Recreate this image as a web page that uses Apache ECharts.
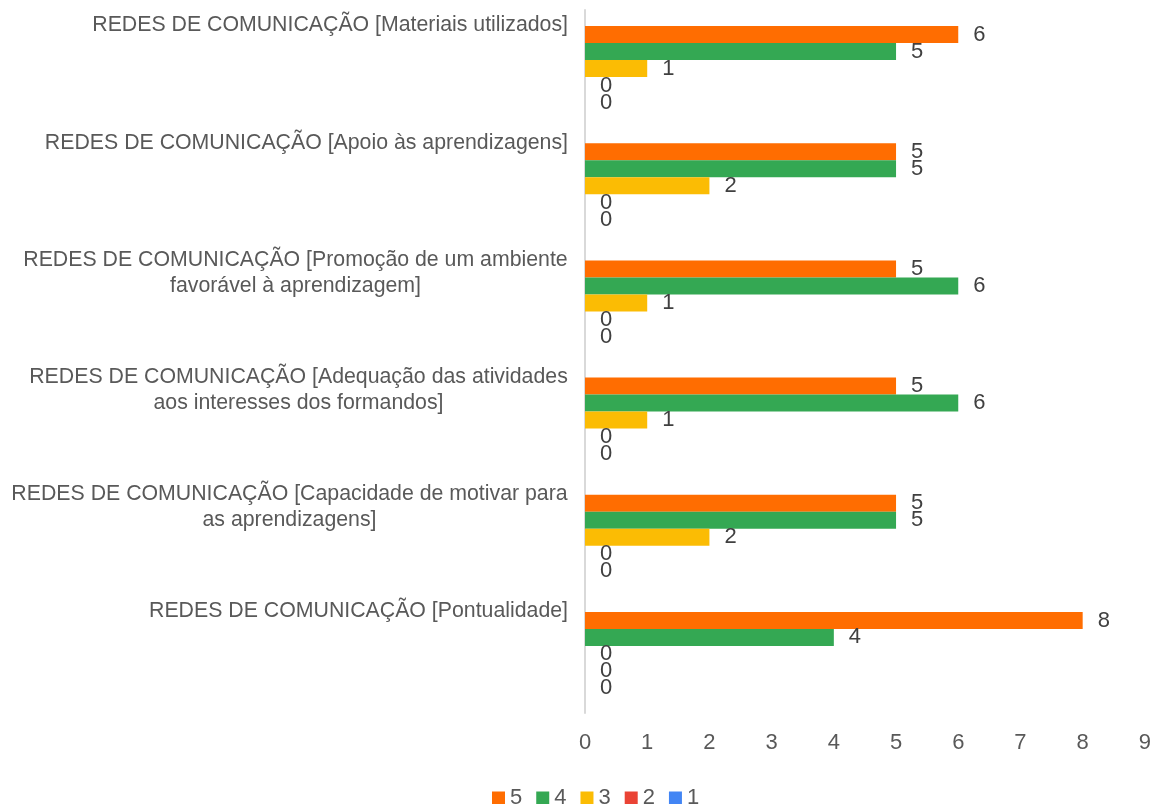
<!DOCTYPE html>
<html>
<head>
<meta charset="utf-8">
<script src="https://cdn.jsdelivr.net/npm/echarts@6/dist/echarts.min.js"></script>
<style>
  html, body { margin: 0; padding: 0; background: #fff; }
  #chart { width: 1154px; height: 804px; }
</style>
</head>
<body>
<div id="chart"></div>
<script>
// categories, top to bottom
const categories = [
  'REDES DE COMUNICAÇÃO [Materiais utilizados]',
  'REDES DE COMUNICAÇÃO [Apoio às aprendizagens]',
  'REDES DE COMUNICAÇÃO [Promoção de um ambiente\nfavorável à aprendizagem]',
  'REDES DE COMUNICAÇÃO [Adequação das atividades\naos interesses dos formandos]',
  'REDES DE COMUNICAÇÃO [Capacidade de motivar para\nas aprendizagens]',
  'REDES DE COMUNICAÇÃO [Pontualidade]'
]
const seriesNames = ['5', '4', '3', '2', '1']
const values5 = [6, 5, 5, 5, 5, 8]
const values4 = [5, 5, 6, 6, 5, 4]
const values3 = [1, 2, 1, 1, 2, 0]
const values2 = [0, 0, 0, 0, 0, 0]
const values1 = [0, 0, 0, 0, 0, 0]
const xTicks = [0, 9, 1] // min, max, interval

const colors = ['#ff6d01', '#34a853', '#fbbc04', '#ea4335', '#4285f4']
const FONT = 'Arial, "Liberation Sans", sans-serif'
const CAT_SIZE = 21.3

// width of the longest line, so wrapped labels get centred lines
const ctx = document.createElement('canvas').getContext('2d')
ctx.font = CAT_SIZE + 'px ' + FONT
const lineWidth = lines => Math.ceil(Math.max(...lines.map(l => ctx.measureText(l).width)))

function fmtLabel(v) {
  const lines = v.split('\n')
  if (lines.length === 1) return v
  const w = lineWidth(lines)
  return lines.map(l => '{c' + w + '|' + l + '}').join('\n')
}
const rich = {}
categories.forEach(c => {
  const lines = c.split('\n')
  if (lines.length > 1) {
    const w = lineWidth(lines)
    rich['c' + w] = { width: w, align: 'center', fontSize: CAT_SIZE, lineHeight: 26, color: '#595959', fontFamily: FONT }
  }
})

const allValues = [values5, values4, values3, values2, values1]

const chart = echarts.init(document.getElementById('chart'))
chart.setOption({
  animation: false,
  textStyle: { fontFamily: FONT },
  color: colors,
  grid: { left: 585, right: 9, top: 10, bottom: 91, containLabel: false },
  legend: {
    top: 782,
    left: 487,
    itemWidth: 13,
    itemHeight: 13,
    itemGap: 14,
    icon: 'rect',
    textStyle: { fontSize: 22, color: '#595959' },
    data: seriesNames
  },
  xAxis: {
    type: 'value',
    min: xTicks[0],
    max: xTicks[1],
    interval: xTicks[2],
    axisLine: { show: false },
    axisTick: { show: false },
    splitLine: { show: false },
    axisLabel: { fontSize: 22, color: '#595959', margin: 19 }
  },
  yAxis: {
    type: 'category',
    inverse: true,
    data: categories,
    axisLine: { lineStyle: { color: '#d9d9d9', width: 2 } },
    axisTick: { show: false },
    axisLabel: {
      fontSize: CAT_SIZE,
      lineHeight: 26,
      color: '#595959',
      margin: 17,
      align: 'right',
      verticalAlign: 'top',
      padding: [-56, 0, 0, 0],
      formatter: fmtLabel,
      rich: rich
    }
  },
  series: seriesNames.map((name, i) => ({
    name: name,
    type: 'bar',
    data: allValues[i],
    barGap: '0%',
    barCategoryGap: '27.5%',
    label: {
      show: true,
      position: 'right',
      distance: 15,
      fontSize: 22,
      color: '#404040'
    }
  }))
})
</script>
</body>
</html>
